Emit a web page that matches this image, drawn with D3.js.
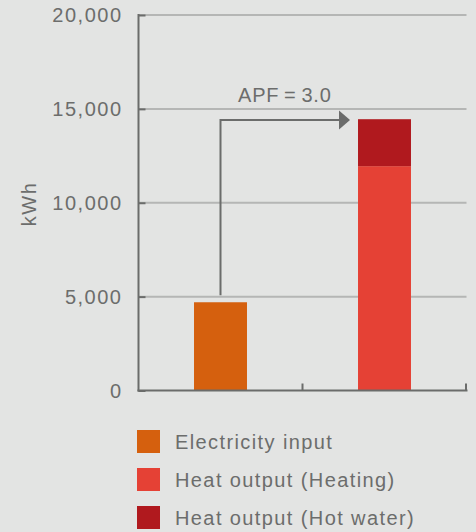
<!DOCTYPE html>
<html><head><meta charset="utf-8">
<script src="https://cdn.jsdelivr.net/npm/d3@7"></script>
<style>
html,body{margin:0;padding:0;background:#e3e4e3;}
svg{display:block;font-family:"Liberation Sans",Arial,Helvetica,sans-serif;}
</style></head>
<body><svg id="c" width="476" height="532"></svg>
<script>
const categories = ["Electricity input", "Heat output"];
const seriesNames = ["Electricity input", "Heat output (Heating)", "Heat output (Hot water)"];
const electricity = [4700, 0];
const heating = [0, 11950];
const hotWater = [0, 2500];
const yTicks = [0, 5000, 10000, 15000, 20000];
const colors = ["#d5600e", "#e54135", "#b0191e"];
const annotation = "APF\u2009=\u20093.0";

const textColor = "#6c6d6c";
const ls = 1.5;
const svg = d3.select("#c");
const x0 = 138.5, x1 = 466.5, yTop = 15, yBot = 390.5;
const y = d3.scaleLinear().domain([0, 20000]).range([yBot, yTop]);
const x = d3.scaleBand().domain(categories).range([x0, x1]).paddingInner(0.677).paddingOuter(0.3385);

// gridlines
svg.append("g").selectAll("line").data(yTicks.filter(d => d > 0)).join("line")
  .attr("x1", x0).attr("x2", x1).attr("y1", d => y(d)).attr("y2", d => y(d))
  .attr("stroke", "#b5b6b5").attr("stroke-width", 2);

// bars
const rows = categories.map((c, i) => ({cat: c, e: electricity[i], h: heating[i], w: hotWater[i]}));
const stack = d3.stack().keys(["e", "h", "w"])(rows);
svg.append("g").selectAll("g").data(stack).join("g").attr("fill", (d, i) => colors[i])
  .selectAll("rect").data(d => d.filter(p => p[1] > p[0])).join("rect")
  .attr("x", d => x(d.data.cat)).attr("width", x.bandwidth())
  .attr("y", d => y(d[1])).attr("height", d => y(d[0]) - y(d[1]));

// y axis
const yAxis = d3.axisRight(y).tickValues(yTicks).tickSize(7).tickFormat("");
const gy = svg.append("g").attr("transform", `translate(${x0},0)`).call(yAxis);
gy.select(".domain").remove();
gy.selectAll(".tick line").attr("stroke", "#6b6c6b").attr("stroke-width", 2);
svg.append("line").attr("x1", x0).attr("x2", x0).attr("y1", yTop - 1).attr("y2", yBot + 1)
  .attr("stroke", "#6b6c6b").attr("stroke-width", 2);
svg.append("g").selectAll("text").data(yTicks).join("text")
  .attr("x", 121 + ls).attr("y", d => y(d)).attr("dy", "0.36em").attr("text-anchor", "end")
  .attr("letter-spacing", ls)
  .attr("fill", textColor).attr("font-size", 20).text(d3.format(","));

// x axis
svg.append("line").attr("x1", x0 - 1).attr("x2", x1 + 1).attr("y1", yBot).attr("y2", yBot)
  .attr("stroke", "#6b6c6b").attr("stroke-width", 2);
const mid = (x(categories[0]) + x(categories[1]) + x.bandwidth()) / 2;
svg.append("g").selectAll("line").data([mid, x1 - 0.5]).join("line")
  .attr("x1", d => d).attr("x2", d => d).attr("y1", yBot).attr("y2", yBot - 7)
  .attr("stroke", "#6b6c6b").attr("stroke-width", 2);

// axis title
svg.append("text").attr("transform", `translate(36,204) rotate(-90)`)
  .attr("text-anchor", "middle").attr("letter-spacing", ls)
  .attr("fill", textColor).attr("font-size", 20).text("kWh");

// arrow annotation
const ax = x(categories[0]) + x.bandwidth() / 2;
const arrowY = 120;
const tipX = x(categories[1]) - 8;
svg.append("path")
  .attr("d", `M${ax},${y(electricity[0]) - 7}V${arrowY}H${tipX - 10}`)
  .attr("fill", "none").attr("stroke", "#6b6c6b").attr("stroke-width", 2);
svg.append("path")
  .attr("d", `M${tipX},${arrowY}L${tipX - 11},${arrowY - 9.5}L${tipX - 11},${arrowY + 9.5}Z`)
  .attr("fill", "#6b6c6b");
svg.append("text").attr("x", 238).attr("y", 102).attr("letter-spacing", 0.8)
  .attr("fill", textColor).attr("font-size", 20).text(annotation);

// legend
const lg = svg.append("g").selectAll("g").data(seriesNames).join("g")
  .attr("transform", (d, i) => `translate(137,${430 + i * 38})`);
lg.append("rect").attr("width", 23).attr("height", 23).attr("fill", (d, i) => colors[i]);
lg.append("text").attr("x", 38).attr("y", 11.5).attr("dy", "0.36em").attr("letter-spacing", 1.4)
  .attr("fill", textColor).attr("font-size", 20).text(d => d);
</script></body></html>
